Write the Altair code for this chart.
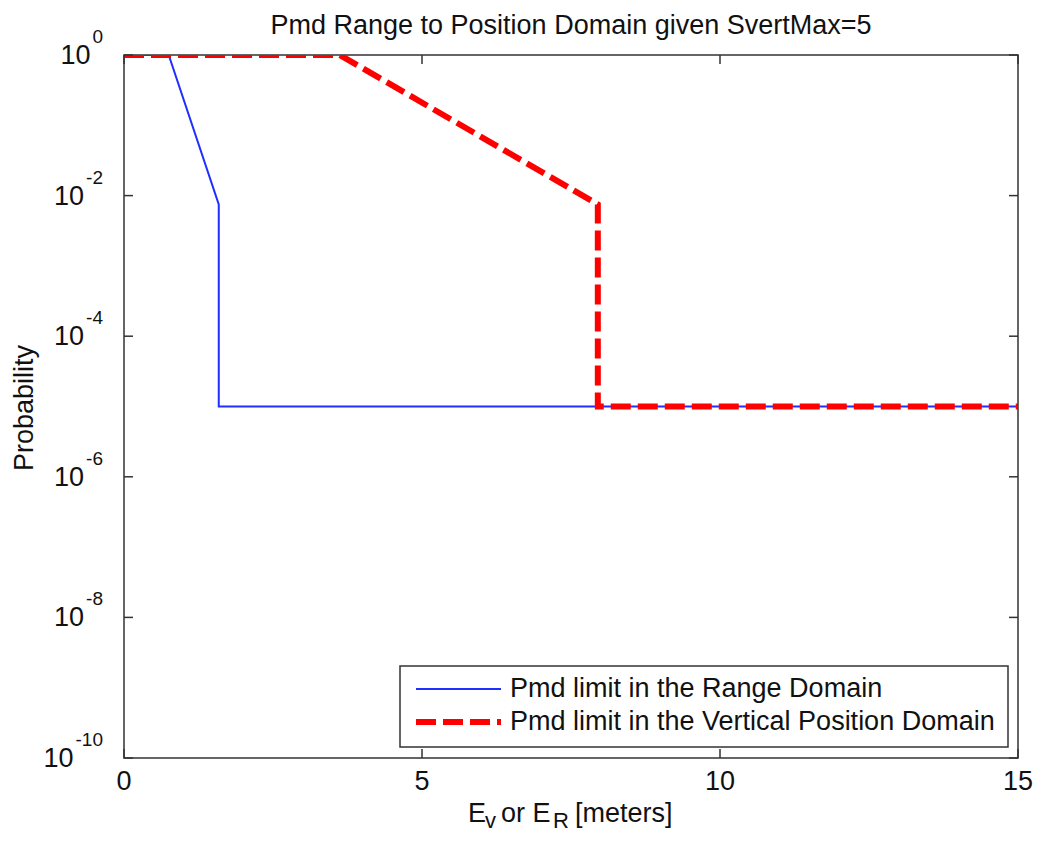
import altair as alt
import pandas as pd

# ---------------- data ----------------
range_x = [0.0, 0.75, 1.59, 1.59, 15.0]
range_p = [1.0, 1.0, 7.5e-3, 1e-5, 1e-5]
vert_x = [0.0, 3.62, 7.95, 7.95, 15.0]
vert_p = [1.0, 1.0, 7.5e-3, 1e-5, 1e-5]
x_ticks = [0, 5, 10, 15]
x_tick_labels = ["0", "5", "10", "15"]
y_ticks = [1e0, 1e-2, 1e-4, 1e-6, 1e-8, 1e-10]
y_exps = ["0", "-2", "-4", "-6", "-8", "-10"]
legend_labels = ["Pmd limit in the Range Domain",
                 "Pmd limit in the Vertical Position Domain"]
title_text = "Pmd Range to Position Domain given SvertMax=5"
y_title = "Probability"

# ---------------- style ----------------
W, H = 894, 703
FONT = "Liberation Sans"
TXT = "#111111"
AX = "#333333"
BLUE = "#1f2fff"
RED = "#ff0000"
FS = 27
EXP_FS = 19
SUB_FS = 22

xs = alt.Scale(domain=[0, 15], nice=False, zero=False)
ys = alt.Scale(type="log", domain=[1e-10, 1], nice=False)

df_r = pd.DataFrame({"x": range_x, "p": range_p, "i": list(range(len(range_x)))})
df_v = pd.DataFrame({"x": vert_x, "p": vert_p, "i": list(range(len(vert_x)))})
df_xt = pd.DataFrame({"x": x_ticks, "t": x_tick_labels})
df_yt = pd.DataFrame({"v": y_ticks, "e": y_exps})
df_yt["base"] = "10"
# right edge of the "10" depends on exponent width (right-aligned label group)
df_yt["lx"] = [-23 - EXP_FS * (0.333 * e.count("-") + 0.556 * (len(e) - e.count("-")))
               for e in y_exps]
one = pd.DataFrame({"a": [0]})

X = lambda f: alt.X(f, scale=xs, axis=None)
Y = lambda f: alt.Y(f, scale=ys, axis=None)

line_r = alt.Chart(df_r).mark_line(color=BLUE, strokeWidth=2, clip=True).encode(
    x=X("x:Q"), y=Y("p:Q"), order="i:Q")
line_v = alt.Chart(df_v).mark_line(color=RED, strokeWidth=6, strokeDash=[20, 7],
                                   clip=True).encode(
    x=X("x:Q"), y=Y("p:Q"), order="i:Q")

# inward ticks (MATLAB style)
tick_b = alt.Chart(df_xt).mark_rule(color=AX, strokeWidth=1.5).encode(
    x=X("x:Q"), y=alt.value(H), y2=alt.value(H - 9))
tick_t = alt.Chart(df_xt).mark_rule(color=AX, strokeWidth=1.5).encode(
    x=X("x:Q"), y=alt.value(0), y2=alt.value(9))
tick_l = alt.Chart(df_yt).mark_rule(color=AX, strokeWidth=1.5).encode(
    y=Y("v:Q"), x=alt.value(0), x2=alt.value(9))
tick_r = alt.Chart(df_yt).mark_rule(color=AX, strokeWidth=1.5).encode(
    y=Y("v:Q"), x=alt.value(W - 9), x2=alt.value(W))

# tick labels
xlab = alt.Chart(df_xt).mark_text(font=FONT, fontSize=FS, color=TXT, align="center",
                                  baseline="alphabetic").encode(
    x=X("x:Q"), y=alt.value(H + 32), text="t:N")
ylab_base = alt.Chart(df_yt).mark_text(font=FONT, fontSize=FS, color=TXT, align="right",
                                       baseline="alphabetic", dy=9).encode(
    x=alt.X("lx:Q", scale=None, axis=None), y=Y("v:Q"), text="base:N")
ylab_exp = alt.Chart(df_yt).mark_text(font=FONT, fontSize=EXP_FS, color=TXT, align="right",
                                      baseline="alphabetic", dy=-12).encode(
    x=alt.value(-21), y=Y("v:Q"), text="e:N")

# titles
title = alt.Chart(pd.DataFrame({"t": [title_text]})).mark_text(
    font=FONT, fontSize=FS, color=TXT, align="center", baseline="alphabetic").encode(
    x=alt.value(W / 2), y=alt.value(-21), text="t:N")
ytitle = alt.Chart(pd.DataFrame({"t": [y_title]})).mark_text(
    font=FONT, fontSize=FS, color=TXT, align="center", baseline="middle", angle=270).encode(
    x=alt.value(-99), y=alt.value(353), text="t:N")

xt_parts = [("E", 344, FS, 767), ("v", 361, SUB_FS, 773), ("or E", 377, FS, 767),
            ("R", 429, SUB_FS, 773), ("[meters]", 451, FS, 767)]
xtitle_layers = []
for txt, px, fs, py in xt_parts:
    xtitle_layers.append(
        alt.Chart(pd.DataFrame({"t": [txt]})).mark_text(
            font=FONT, fontSize=fs, color=TXT, align="left", baseline="alphabetic").encode(
            x=alt.value(px), y=alt.value(py), text="t:N"))

# legend
leg_box = alt.Chart(one).mark_rect(fill="white", stroke=AX, strokeWidth=1.5).encode(
    x=alt.value(276), x2=alt.value(884), y=alt.value(611), y2=alt.value(692))
leg_l1 = alt.Chart(one).mark_rule(color=BLUE, strokeWidth=2).encode(
    x=alt.value(292), x2=alt.value(377), y=alt.value(634))
leg_l2 = alt.Chart(one).mark_rule(color=RED, strokeWidth=6, strokeDash=[20, 7]).encode(
    x=alt.value(292), x2=alt.value(377), y=alt.value(667))
leg_t1 = alt.Chart(pd.DataFrame({"t": [legend_labels[0]]})).mark_text(
    font=FONT, fontSize=FS, color=TXT, align="left", baseline="middle").encode(
    x=alt.value(386), y=alt.value(634), text="t:N")
leg_t2 = alt.Chart(pd.DataFrame({"t": [legend_labels[1]]})).mark_text(
    font=FONT, fontSize=FS, color=TXT, align="left", baseline="middle").encode(
    x=alt.value(386), y=alt.value(667), text="t:N")

chart = alt.layer(
    line_r, line_v, tick_b, tick_t, tick_l, tick_r,
    xlab, ylab_base, ylab_exp, title, ytitle, *xtitle_layers,
    leg_box, leg_l1, leg_l2, leg_t1, leg_t2
).properties(
    width=W, height=H,
    autosize=alt.AutoSizeParams(type="none"),
    padding={"left": 116, "top": 47, "right": 17, "bottom": 75},
    background="white",
).configure_view(stroke=AX, strokeWidth=1.5)

chart.save("out.html", embed_options={"renderer": "svg", "actions": False})
